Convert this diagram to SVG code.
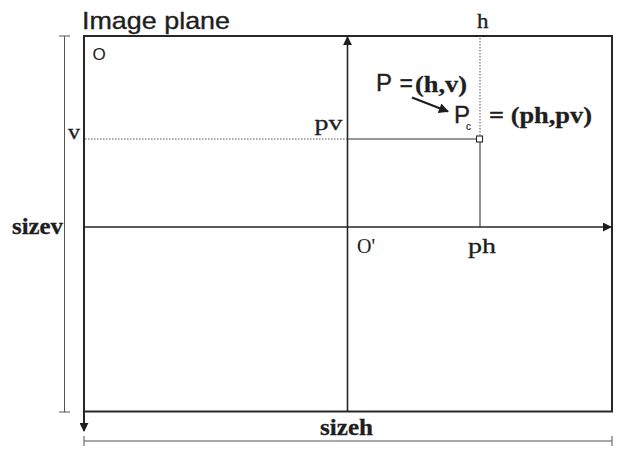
<svg xmlns="http://www.w3.org/2000/svg" width="623" height="449" viewBox="0 0 623 449">
<style>
.frame{fill:none;stroke:#262626;stroke-width:2}
.axis{fill:none;stroke:#262626;stroke-width:1.6}
.thin{fill:none;stroke:#333;stroke-width:1.1}
.dim{fill:none;stroke:#555;stroke-width:1}
.dot{fill:none;stroke:#555;stroke-width:1;stroke-dasharray:1.5 1.5}
.sans{font-family:"Liberation Sans",Arial,sans-serif;fill:#1e1e1e;stroke:#1e1e1e;stroke-width:0.35}
.serif{font-family:"Liberation Serif","Times New Roman",serif;fill:#1e1e1e;stroke:#1e1e1e;stroke-width:0.3}
.b{font-weight:bold}
</style>
<defs>
<marker id="ah" viewBox="0 0 10 10" refX="9" refY="5" markerWidth="9" markerHeight="9" markerUnits="userSpaceOnUse" orient="auto">
<path d="M0,0 L10,5 L0,10 z" fill="#1e1e1e"/>
</marker>
<marker id="ah2" viewBox="0 0 10 10" refX="9" refY="5" markerWidth="11" markerHeight="10" markerUnits="userSpaceOnUse" orient="auto">
<path d="M0,0 L10,5 L0,10 z" fill="#1e1e1e"/>
</marker>
</defs>
<rect width="623" height="449" fill="#fff"/>

<g id="image-plane">
<rect class="frame" x="84" y="36" width="528" height="375.5"/>
<text class="sans" x="82" y="28.5" font-size="24" textLength="148" lengthAdjust="spacingAndGlyphs">Image plane</text>
<text class="sans" x="92.5" y="60" font-size="17" style="stroke-width:0.1">O</text>
</g>

<g id="connectors">
<line class="frame" x1="84" y1="411" x2="84" y2="431" marker-end="url(#ah)"/>
<line class="axis" x1="347.5" y1="411" x2="347.5" y2="37" marker-end="url(#ah)"/>
<line class="axis" x1="84" y1="227" x2="611" y2="227" marker-end="url(#ah)"/>
<line class="dot" x1="85" y1="139" x2="347" y2="139"/>
<line class="thin" x1="347" y1="139" x2="476.5" y2="139"/>
<line class="thin" x1="480" y1="142" x2="480" y2="227"/>
<line class="dot" x1="480" y1="38" x2="480" y2="136"/>
<line x1="412" y1="97.5" x2="448" y2="111.5" stroke="#1e1e1e" stroke-width="2.2" marker-end="url(#ah2)"/>
<g id="dim-v">
<line class="dim" x1="64.5" y1="36" x2="64.5" y2="412"/>
<line class="dim" x1="59" y1="36" x2="70" y2="36"/>
<line class="dim" x1="59" y1="412" x2="70" y2="412"/>
</g>
<g id="dim-h">
<line class="dim" x1="84" y1="441" x2="612" y2="441"/>
<line class="dim" x1="84" y1="436" x2="84" y2="446"/>
<line class="dim" x1="612" y1="436" x2="612" y2="446"/>
</g>
</g>

<g id="point-pc">
<rect x="476.5" y="136" width="6" height="6" fill="#fff" stroke="#262626" stroke-width="1.1"/>
</g>

<g id="labels">
<text class="serif" x="68" y="139" font-size="22" textLength="12" lengthAdjust="spacingAndGlyphs">v</text>
<text class="serif" x="314.5" y="130" font-size="22" textLength="28" lengthAdjust="spacingAndGlyphs">pv</text>
<text class="serif" x="477" y="28" font-size="20" textLength="11.5" lengthAdjust="spacingAndGlyphs">h</text>
<text class="serif" x="468" y="253" font-size="22" textLength="28" lengthAdjust="spacingAndGlyphs">ph</text>
<text class="serif" x="357" y="253" font-size="20" style="stroke-width:0.1">O'</text>
<text class="serif b" x="12" y="233.5" font-size="23" textLength="51" lengthAdjust="spacingAndGlyphs">sizev</text>
<text class="serif b" x="320" y="435" font-size="23" textLength="53" lengthAdjust="spacingAndGlyphs">sizeh</text>
</g>

<g id="label-p">
<text class="sans" x="376" y="91" font-size="24">P</text>
<text class="sans" x="399.5" y="91" font-size="24" textLength="13.5" lengthAdjust="spacingAndGlyphs">=</text>
<text class="serif b" x="415" y="92" font-size="24" textLength="52" lengthAdjust="spacingAndGlyphs">(h,v)</text>
</g>

<g id="label-pc">
<text class="sans" x="454" y="123" font-size="24">P</text>
<text class="sans" x="466" y="129.5" font-size="10" style="stroke-width:0.2">c</text>
<text class="serif b" x="489" y="122.5" font-size="24" textLength="103" lengthAdjust="spacingAndGlyphs">= (ph,pv)</text>
</g>
</svg>
